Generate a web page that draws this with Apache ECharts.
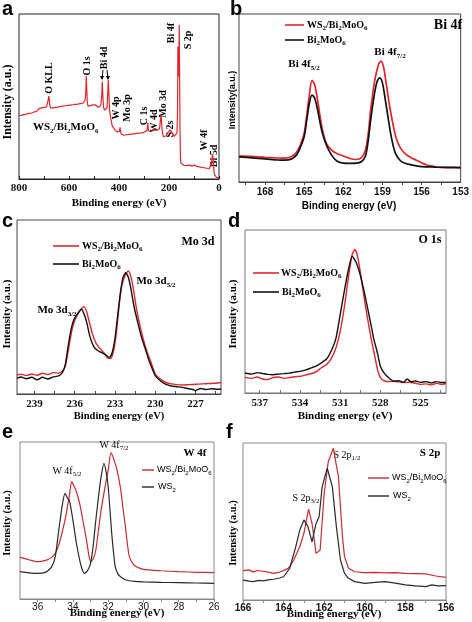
<!DOCTYPE html>
<html><head><meta charset="utf-8">
<script src="https://cdn.jsdelivr.net/npm/echarts@6.0.0/dist/echarts.min.js"></script>
<style>html,body{margin:0;padding:0;background:#fff}#c{width:472px;height:622px}</style>
</head><body><div id="c"></div>
<script>
// ---------------- DATA ----------------
// (a) survey spectrum of WS2/Bi2MoO6: [binding energy eV, intensity a.u.]
const surveyScan = [[800,38.5],[795,39.2],[790,38.6],[785,39.6],[780,39.0],[775,39.9],[770,39.3],[765,40.4],[760,39.8],[755,40.7],[750,40.0],[745,41.1],[740,40.6],[735,41.5],[730,41.0],[725,41.9],[720,42.7],[715,41.9],[710,43.1],[705,42.4],[700,43.4],[695,42.7],[690,43.6],[686,44.6],[683,48.0],[681,50.2],[679,48.6],[677,45.1],[674,43.3],[670,43.9],[665,43.0],[660,44.1],[655,43.4],[650,44.3],[645,43.6],[640,44.6],[635,43.9],[630,44.9],[625,44.2],[620,45.1],[615,44.4],[610,45.3],[605,44.6],[600,45.4],[595,44.8],[590,45.7],[585,45.0],[580,45.9],[575,45.2],[570,46.1],[565,45.4],[560,46.4],[555,45.7],[550,46.6],[545,45.9],[540,46.9],[536,47.6],[533,52.0],[531,62.4],[529,55.0],[527,46.8],[524,44.2],[520,43.6],[515,44.5],[510,43.8],[505,44.9],[500,43.9],[495,45.0],[490,44.1],[485,43.6],[480,44.8],[476,44.0],[472,45.5],[469,50.5],[467,59.0],[465,52.0],[462,43.5],[458,41.8],[455,42.0],[452,41.5],[448,43.0],[445,52.0],[443,60.0],[441,54.0],[438,42.0],[434,37.8],[430,34.5],[427,32.0],[424,31.5],[421,32.6],[418,30.2],[415,31.0],[412,29.5],[408,28.6],[405,29.3],[401,28.0],[398,29.0],[396,31.3],[394,29.5],[391,27.2],[388,26.6],[384,27.2],[380,26.5],[375,27.3],[370,26.8],[365,27.6],[360,27.0],[355,27.9],[350,27.2],[345,28.0],[340,27.4],[335,28.2],[330,27.6],[325,28.4],[320,27.8],[315,28.6],[310,28.0],[305,28.8],[300,28.3],[296,29.0],[292,28.5],[289,29.2],[287,31.0],[285,34.1],[283,30.5],[281,29.0],[278,28.6],[274,29.4],[270,28.9],[266,29.7],[262,29.1],[258,30.0],[255,29.6],[252,30.3],[248,29.5],[245,30.2],[241,29.4],[238,30.5],[236,33.0],[234,36.5],[232,38.8],[230,35.0],[228,30.0],[225,27.0],[222,25.6],[219,26.0],[215,26.7],[211,26.2],[207,27.2],[203,28.4],[199,29.5],[195,29.8],[191,29.2],[187,28.0],[183,26.8],[179,25.8],[175,25.6],[171,26.3],[168,28.0],[166,40.0],[164.5,80.2],[163,62.0],[161,66.0],[159,93.3],[157.5,60.0],[156,30.0],[154,12.0],[152,9.6],[149,8.6],[145,8.9],[140,8.3],[135,8.7],[130,8.1],[126,8.6],[123,9.0],[120,8.4],[117,8.0],[113,8.3],[108,7.8],[103,8.1],[98,8.4],[95,8.8],[92,8.3],[88,7.6],[84,7.9],[79,7.3],[74,7.6],[69,7.0],[64,7.3],[59,6.8],[54,7.0],[49,6.5],[44,6.8],[40,6.2],[36,5.9],[33,6.3],[30,9.0],[28,13.0],[26,14.5],[24,13.0],[22,8.0],[20,4.5],[18,2.6],[16,1.8],[13,1.4],[10,1.0],[7,0.8],[4,0.7],[2,0.6],[0,0.6]];
const surveyTickLabels = [0,200,400,600,800];
const surveyTicks = [0,100,200,300,400,500,600,700,800];

// (b) Bi 4f
const bi4fComposite = [[170,15.5],[169,15.2],[168,14.7],[167,14.3],[166.5,14.2],[166,15.0],[165.6,17.5],[165.3,22],[165,29],[164.8,40],[164.6,52],[164.4,60.5],[164.2,58],[164,50],[163.8,40],[163.6,31],[163.3,23],[162.9,19],[162.5,17],[162,15.5],[161.5,14],[161,13.4],[160.6,14.5],[160.3,19],[160.1,28],[159.9,43],[159.6,60],[159.3,70],[159.1,72],[158.9,68],[158.7,58],[158.4,43],[158.1,31],[157.9,25],[157.6,20],[157.2,16.5],[156.8,14.5],[156.4,13],[156,11.5],[155.6,10.1],[155,9.2],[154.6,8.7],[154,8.6],[153,8.5]];
const bi4fPristine = [[170,15.0],[169,14.4],[168,13.8],[167,13.1],[166.5,13.0],[166,13.6],[165.6,16],[165.3,20.5],[165,27],[164.8,37],[164.6,47],[164.4,51.8],[164.2,50],[164,44],[163.8,36],[163.6,29],[163.3,22],[162.9,16],[162.5,12.5],[162,11.2],[161.5,11.1],[161,11.2],[160.6,12.2],[160.3,15.5],[160.1,24],[159.9,37],[159.6,53],[159.4,60],[159.2,62],[159,59],[158.8,50],[158.6,40],[158.3,26],[158,17],[157.6,12.5],[157.2,11],[156.8,10.2],[156.4,9.6],[156,9.2],[155,8.9],[154,8.7],[153,8.6]];
const bi4fTickLabels = [153,156,159,162,165,168];
const bi4fTicks = [154.5,156,157.5,159,160.5,162,163.5,165,166.5,168,169.5];

// (c) Mo 3d
const mo3dComposite = [[240.3,10.9],[240,11.4],[239.6,10.6],[239.2,11.5],[238.8,10.8],[238.4,11.9],[238,11.2],[237.6,12.3],[237.2,12.0],[236.9,13.4],[236.7,16],[236.5,24],[236.3,33],[236.1,40],[235.9,44],[235.6,48],[235.3,50.2],[235.1,47],[234.9,41],[234.7,35],[234.4,29],[234.1,26],[233.8,23.5],[233.5,20.5],[233.3,20.5],[233.1,25],[232.9,35],[232.7,50],[232.5,62],[232.2,69],[232.0,70.7],[231.8,67],[231.6,59],[231.4,49],[231.1,38],[230.8,29],[230.6,24],[230.3,18],[230.0,11.5],[229.6,8.5],[229.2,6.6],[228.8,5.8],[228.4,5.4],[228,5.2],[227.5,5.4],[227,5.6],[226.5,5.8],[226,6.0],[225.5,6.2],[225.1,6.6]];
const mo3dPristine = [[240.3,9.0],[240,9.8],[239.6,8.8],[239.2,9.6],[238.8,8.2],[238.4,9.6],[238,8.6],[237.6,9.8],[237.2,10.4],[236.9,12.5],[236.7,17],[236.5,27],[236.3,36],[236.1,42],[235.8,46],[235.5,48.7],[235.3,46],[235.1,41],[234.9,34],[234.6,27.5],[234.3,25],[234.0,23.8],[233.7,22.5],[233.4,21],[233.2,24],[233.0,32],[232.8,45],[232.6,58],[232.4,67],[232.2,69.7],[232.0,67],[231.8,60],[231.6,51],[231.3,41],[231.0,32],[230.7,25],[230.5,20],[230.3,16],[230.0,10.5],[229.6,7.5],[229.2,5.5],[228.8,4.6],[228.4,4.2],[228,3.8],[227.5,3.0],[227.2,2.6],[227,2.0],[226.6,3.2],[226.2,2.6],[225.8,3.0],[225.4,2.7],[225.1,2.9]];
const mo3dTickLabels = [227,230,233,236,239];
const mo3dTicks = [225.5,227,228.5,230,231.5,233,234.5,236,237.5,239];

// (d) O 1s
const o1sComposite = [[538.1,9.6],[537.6,9.0],[537.2,9.8],[536.8,8.6],[536.4,8.2],[536,9.5],[535.6,9.8],[535.2,9.0],[534.8,9.4],[534.4,10.0],[534,10.2],[533.6,11.0],[533.2,11.8],[532.8,13.0],[532.4,15.5],[532,17.5],[531.6,22],[531.3,28],[531,37.6],[530.7,52],[530.4,70],[530.1,85],[529.9,88.1],[529.7,84],[529.5,74.4],[529.2,58],[529,48],[528.7,34],[528.4,22],[528.2,14],[528,9.5],[527.7,7.5],[527.3,7.0],[527,7.2],[526.6,6.8],[526.2,6.4],[525.8,6.6],[525.4,6.0],[525,5.3],[524.6,5.6],[524.2,5.0],[523.8,5.9],[523.4,5.3],[523.1,6.0]];
const o1sPristine = [[538.1,12.3],[537.6,11.6],[537.2,12.5],[536.8,12.0],[536.4,11.4],[536,11.2],[535.6,11.6],[535.2,11.9],[534.8,12.2],[534.4,12.8],[534,13.3],[533.6,14.0],[533.2,15.3],[532.8,16.5],[532.4,18.5],[532,21],[531.6,27],[531.3,34],[531,47.9],[530.7,62],[530.4,75],[530.1,84],[529.8,80],[529.5,72.4],[529.2,62],[529,54],[528.7,42],[528.5,33.5],[528.2,24],[528,16.4],[527.7,12],[527.4,9.5],[527,7.2],[526.6,7.6],[526.3,6.4],[526,8.6],[525.7,6.8],[525.4,7.4],[525,6.5],[524.6,7.0],[524.2,6.2],[523.8,7.0],[523.4,6.4],[523.1,6.5]];
const o1sTickLabels = [525,528,531,534,537];
const o1sTicks = [523.5,525,526.5,528,529.5,531,532.5,534,535.5,537];

// (e) W 4f
const w4fComposite = [[37,26.5],[36.5,25.0],[36,23.8],[35.5,24.8],[35.2,26.5],[35,29.1],[34.8,34.5],[34.6,43],[34.4,53],[34.2,66],[34.07,74.7],[33.9,71],[33.8,68.3],[33.6,60],[33.4,48],[33.2,35.5],[33.1,28],[33.0,23.8],[32.85,25.5],[32.7,31.2],[32.55,44],[32.4,56.7],[32.2,70],[32.0,82.2],[31.84,93.2],[31.65,88],[31.5,82.2],[31.3,70.5],[31.15,57],[31.0,43.9],[30.9,34],[30.8,27],[30.6,22.5],[30.4,20.5],[30,18.9],[29,18.0],[28,17.4],[27,17.0],[26,16.8]];
const w4fWS2 = [[37,17.4],[36.5,16.7],[36,16.3],[35.5,17.3],[35.2,20.6],[35,27],[34.8,43.9],[34.6,60],[34.45,67.3],[34.3,64],[34.2,63],[34,50.3],[33.8,35.5],[33.6,24],[33.45,18],[33.35,16.3],[33.15,18.5],[33,22.7],[32.85,34],[32.7,50.3],[32.55,65],[32.4,77.9],[32.24,86.4],[32.1,80],[32,71.5],[31.9,57],[31.8,41.8],[31.7,30],[31.6,20.6],[31.45,16],[31.3,14.2],[31,12.1],[30.5,11.2],[30,10.9],[29,10.6],[28,10.4],[27,10.2],[26,10.0]];
const w4fTickLabels = [26,28,30,32,34,36];
const w4fTicks = [26,27,28,29,30,31,32,33,34,35,36];

// (f) S 2p
const s2pComposite = [[166,18.7],[165.7,19.2],[165.5,17.9],[165.3,18.8],[165,18.3],[164.7,17.6],[164.5,17.0],[164.2,17.8],[164,18.7],[163.8,20],[163.7,21.2],[163.5,25.5],[163.2,34],[163,42.5],[162.77,57.8],[162.6,48.8],[162.4,29.7],[162.2,31.8],[162.0,68],[161.8,88.1],[161.55,96.6],[161.3,78.5],[161.1,40.3],[161.0,27.6],[160.8,20.2],[160.5,18],[160,17.4],[159.5,17.6],[159,17.3],[158.5,17.4],[158,17.0],[157.5,16.8],[157,16.6],[156.5,15.3],[156,14.4]];
const s2pWS2 = [[166,12.7],[165.7,12.0],[165.5,11.7],[165.2,12.5],[165,12.2],[164.7,13.0],[164.5,13.2],[164.2,14.0],[164,14.8],[163.7,20.2],[163.4,34],[163.2,44.6],[163.0,51],[162.8,46.7],[162.6,37.1],[162.4,48.8],[162.25,53],[162.1,72.2],[161.85,83.9],[161.6,72.2],[161.4,46.7],[161.2,25.5],[161.0,17],[160.8,13.8],[160.5,11.7],[160,10.6],[159.5,11.2],[159,11.7],[158.5,10.8],[158,9.6],[157.5,9.0],[157,8.5],[156.7,9.6],[156.4,9.0],[156,9.1]];
const s2pTickLabels = [156,158,160,162,164,166];
const s2pTicks = [156,157,158,159,160,161,162,163,164,165,166];

// ---------------- STYLE / LAYOUT ----------------
const SERIF = '"Liberation Serif","Times New Roman",serif';
const SANS = '"Liberation Sans",Arial,sans-serif';
const RED = '#e3252b', BLK = '#111111';
const RED2 = '#cc2a30', BLK2 = '#2a2a2a';

const panels = [
  {box:[19,14,200,165], range:[0,800], labels:surveyTickLabels, ticks:surveyTicks, inside:true, fam:SERIF, weight:'bold', size:11, border:'#222', margin:4,
   series:[{data:surveyScan, color:RED, width:1.2, smooth:false}]},
  {box:[239,14,225,168], range:[153,170], labels:bi4fTickLabels, ticks:bi4fTicks, inside:false, fam:SANS, weight:'bold', size:10, border:'#444', margin:5,
   series:[{data:bi4fComposite, color:RED, width:1.7, smooth:0.3},{data:bi4fPristine, color:BLK, width:1.7, smooth:0.3}]},
  {box:[17,220,204,174], range:[225.1,240.3], labels:mo3dTickLabels, ticks:mo3dTicks, inside:true, fam:SERIF, weight:'bold', size:11, border:'#444', margin:5,
   series:[{data:mo3dComposite, color:RED, width:1.4, smooth:0.2},{data:mo3dPristine, color:BLK, width:1.4, smooth:0.2}]},
  {box:[245,230,201,163], range:[523.1,538.1], labels:o1sTickLabels, ticks:o1sTicks, inside:true, fam:SERIF, weight:'bold', size:11, border:'#777', margin:5,
   series:[{data:o1sComposite, color:RED, width:1.4, smooth:0.2},{data:o1sPristine, color:BLK, width:1.4, smooth:0.2}]},
  {box:[20,442,194,157], range:[26,37], labels:w4fTickLabels, ticks:w4fTicks, inside:false, fam:SANS, weight:'normal', size:10, border:'#888', margin:3,
   series:[{data:w4fComposite, color:RED2, width:1.2, smooth:0.2},{data:w4fWS2, color:BLK2, width:1.2, smooth:0.2}]},
  {box:[243,443,203,157], range:[156,166], labels:s2pTickLabels, ticks:s2pTicks, inside:false, fam:SANS, weight:'bold', size:10, border:'#888', margin:3,
   series:[{data:s2pComposite, color:RED2, width:1.2, smooth:false},{data:s2pWS2, color:BLK2, width:1.2, smooth:false}]}
];

const grid = [], xAxis = [], yAxis = [], series = [];
panels.forEach((p, i) => {
  grid.push({left:p.box[0], top:p.box[1], width:p.box[2], height:p.box[3], show:true, borderColor:p.border, borderWidth:1, backgroundColor:'transparent', containLabel:false});
  xAxis.push({gridIndex:i, type:'value', inverse:true, min:p.range[0], max:p.range[1],
    axisLine:{show:true, lineStyle:{color:p.border, width:1}}, splitLine:{show:false},
    axisTick:{show:true, inside:p.inside, length:3, customValues:p.ticks, lineStyle:{color:p.border}},
    axisLabel:{customValues:p.labels, fontFamily:p.fam, fontWeight:p.weight, fontSize:p.size, color:'#111', margin:p.margin}});
  yAxis.push({gridIndex:i, type:'value', min:0, max:100, show:false});
  p.series.forEach(s => series.push({type:'line', xAxisIndex:i, yAxisIndex:i, data:s.data, showSymbol:false, symbol:'none', smooth:s.smooth,
    lineStyle:{color:s.color, width:s.width}, itemStyle:{color:s.color}, silent:true, animation:false}));
});

function rich(fam, weight, fs, color) {
  const ss = Math.round(fs * 0.68);
  return { n:{fontFamily:fam, fontWeight:weight, fontSize:fs, lineHeight:fs+4, fill:color||'#000'},
           s:{fontFamily:fam, fontWeight:weight, fontSize:ss, lineHeight:ss, verticalAlign:'bottom', fill:color||'#000'} };
}
function T(x, y, text, o) {
  o = o || {};
  const fam = o.fam || SERIF, weight = o.weight || 'bold', fs = o.fs || 11;
  return {type:'text', x, y, rotation:o.rot || 0, silent:true,
    style:{text, fill:o.color || '#000', fontFamily:fam, fontWeight:weight, fontSize:fs,
      align:o.align || 'left', verticalAlign:'middle', rich:rich(fam, weight, fs, o.color)}};
}
function L(x1, y1, x2, y2, color, w) {
  return {type:'line', silent:true, shape:{x1, y1, x2, y2}, style:{stroke:color, lineWidth:w || 1.6}};
}
const COMP = '{n|WS}{s|2}{n|/Bi}{s|2}{n|MoO}{s|6}';
const BMO = '{n|Bi}{s|2}{n|MoO}{s|6}';
const WS2 = '{n|WS}{s|2}';
const V = Math.PI / 2;

const graphics = [
  // panel letters
  T(2, 9, 'a', {fam:SANS, fs:20}), T(230, 9, 'b', {fam:SANS, fs:20}),
  T(2, 221, 'c', {fam:SANS, fs:20}), T(228, 221, 'd', {fam:SANS, fs:20}),
  T(2, 432, 'e', {fam:SANS, fs:20}), T(226, 432, 'f', {fam:SANS, fs:20}),
  // axis titles
  T(119, 203, 'Binding energy (eV)', {align:'center', fs:11}),
  T(349, 206, 'Binding energy (eV)', {align:'center', fam:SANS, fs:10}),
  T(119, 416, 'Binding energy (eV)', {align:'center', fs:10.5}),
  T(345, 416, 'Binding energy (eV)', {align:'center', fs:11}),
  T(117, 613, 'Binding energy (eV)', {align:'center', fs:11}),
  T(334, 614, 'Binding energy (eV)', {align:'center', fs:11}),
  T(8, 102, 'Intensity (a.u.)', {align:'center', rot:V, fs:12}),
  T(233, 100, 'Intensity(a.u.)', {align:'center', rot:V, fam:SANS, fs:9}),
  T(7, 314, 'Intensity (a.u.)', {align:'center', rot:V, fs:11}),
  T(233, 314, 'Intensity (a.u.)', {align:'center', rot:V, fs:11}),
  T(7, 523, 'Intensity (a.u.)', {align:'center', rot:V, fs:10.5}),
  T(233, 533, 'Intensity (a.u.)', {align:'center', rot:V, fs:10.5}),
  // (a) peak annotations
  T(49, 78, 'O KLL', {align:'center', rot:V, fs:10}),
  T(87, 66, 'O 1s', {align:'center', rot:V, fs:10}),
  T(104, 58, 'Bi 4d', {align:'center', rot:V, fs:10}),
  T(116, 108, 'W 4p', {align:'center', rot:V, fs:10}),
  T(127, 108, 'Mo 3p', {align:'center', rot:V, fs:10}),
  T(144, 116, 'C 1s', {align:'center', rot:V, fs:10}),
  T(154, 121, 'W 4d', {align:'center', rot:V, fs:10}),
  T(163, 104, 'Mo 3d', {align:'center', rot:V, fs:10}),
  T(170, 129, 'S 2s', {align:'center', rot:V, fs:10}),
  T(171, 33, 'Bi 4f', {align:'center', rot:V, fs:10}),
  T(188, 40, 'S 2p', {align:'center', rot:V, fs:10}),
  T(204, 140, 'W 4f', {align:'center', rot:V, fs:10}),
  T(214, 156, 'Bi 5d', {align:'center', rot:V, fs:10}),
  T(33, 127, COMP, {fs:11}),
  L(103, 70, 102, 79, '#000', 1), L(107, 70, 108, 79, '#000', 1),
  {type:'polygon', silent:true, shape:{points:[[100,76],[104,76],[102,80]]}, style:{fill:'#000'}},
  {type:'polygon', silent:true, shape:{points:[[106,76],[110,76],[108,80]]}, style:{fill:'#000'}},
  // (b)
  L(285, 25, 304, 25, RED), L(285, 40, 304, 40, BLK),
  T(307, 25, COMP, {fs:10}), T(307, 40, BMO, {fs:10}),
  T(448, 25, 'Bi 4f', {align:'center', fs:14}),
  T(304, 64, '{n|Bi 4f}{s|5/2}', {align:'center', fs:11}),
  T(390, 52, '{n|Bi 4f}{s|7/2}', {align:'center', fs:11}),
  // (c)
  L(53, 246, 79, 246, RED), L(53, 264, 79, 264, BLK),
  T(82, 246, COMP, {fs:10}), T(82, 264, BMO, {fs:10}),
  T(198, 242, 'Mo 3d', {align:'center', fs:12}),
  T(57, 310, '{n|Mo 3d}{s|3/2}', {align:'center', fs:11}),
  T(156, 281, '{n|Mo 3d}{s|5/2}', {align:'center', fs:11}),
  // (d)
  L(253, 273, 279, 273, RED), L(253, 292, 279, 292, BLK),
  T(281, 273, COMP, {fs:10}), T(282, 292, BMO, {fs:10}),
  T(430, 240, 'O 1s', {align:'center', fs:12}),
  // (e)
  L(142, 470, 154, 470, RED2, 1.4), L(142, 487, 154, 487, BLK2, 1.4),
  T(157, 470, COMP, {fam:SANS, weight:'normal', fs:9}), T(158, 487, WS2, {fam:SANS, weight:'normal', fs:9}),
  T(195, 453, 'W 4f', {align:'center', fs:11}),
  T(67, 471, '{n|W 4f}{s|5/2}', {align:'center', weight:'normal', fs:10}),
  T(114, 445, '{n|W 4f}{s|7/2}', {align:'center', weight:'normal', fs:10}),
  // (f)
  L(368, 478, 389, 478, RED2, 1.4), L(368, 496, 389, 496, BLK2, 1.4),
  T(392, 478, COMP, {fam:SANS, weight:'normal', fs:9}), T(393, 496, WS2, {fam:SANS, weight:'normal', fs:9}),
  T(430, 453, 'S 2p', {align:'center', fs:11}),
  T(347, 455, '{n|S 2p}{s|1/2}', {align:'center', weight:'normal', fs:10}),
  T(306, 498, '{n|S 2p}{s|3/2}', {align:'center', weight:'normal', fs:10})
];

const chart = echarts.init(document.getElementById('c'), null, {renderer:'canvas', width:472, height:622});
chart.setOption({animation:false, backgroundColor:'#fff', grid, xAxis, yAxis, series, graphic:{elements:graphics}});
</script></body></html>
